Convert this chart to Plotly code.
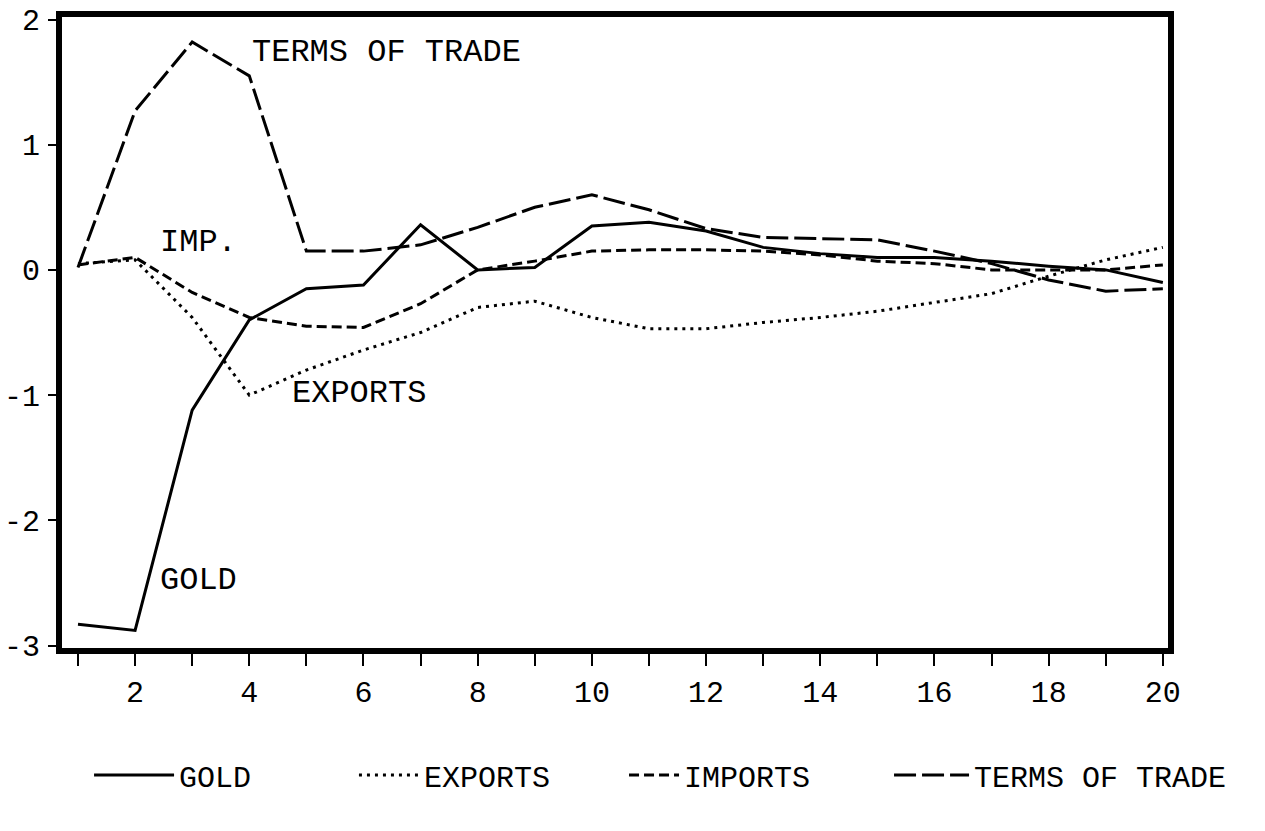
import plotly.graph_objects as go

periods = list(range(1, 21))
gold = [-2.83, -2.88, -1.12, -0.40, -0.15, -0.12, 0.36, 0.00, 0.02, 0.35,
        0.38, 0.31, 0.18, 0.13, 0.10, 0.10, 0.07, 0.03, 0.00, -0.10]
exports = [0.05, 0.08, -0.38, -1.00, -0.80, -0.64, -0.50, -0.30, -0.25, -0.38,
           -0.47, -0.47, -0.42, -0.38, -0.33, -0.26, -0.19, -0.05, 0.08, 0.18]
imports = [0.04, 0.10, -0.18, -0.38, -0.45, -0.46, -0.27, 0.00, 0.07, 0.15,
           0.16, 0.16, 0.15, 0.12, 0.07, 0.05, 0.00, 0.00, 0.00, 0.04]
terms_of_trade = [0.02, 1.27, 1.82, 1.55, 0.15, 0.15, 0.20, 0.34, 0.50, 0.60,
                  0.48, 0.33, 0.26, 0.25, 0.24, 0.15, 0.05, -0.08, -0.17, -0.15]

series_names = ["GOLD", "EXPORTS", "IMPORTS", "TERMS OF TRADE"]

x_tick_vals = list(range(1, 21))
x_tick_text = [str(v) if v % 2 == 0 else "" for v in x_tick_vals]
y_tick_vals = [2, 1, 0, -1, -2, -3]
y_tick_text = ["2", "1", "0", "-1", "-2", "-3"]

FONT = "Liberation Mono, DejaVu Sans Mono, monospace"

fig = go.Figure()
fig.add_trace(go.Scatter(x=periods, y=gold, mode="lines", name=series_names[0],
                         legend="legend",
                         line=dict(color="black", width=3)))
fig.add_trace(go.Scatter(x=periods, y=exports, mode="lines", name=series_names[1],
                         legend="legend2",
                         line=dict(color="black", width=3, dash="3px,5px")))
fig.add_trace(go.Scatter(x=periods, y=imports, mode="lines", name=series_names[2],
                         legend="legend3",
                         line=dict(color="black", width=3, dash="10px,5px")))
fig.add_trace(go.Scatter(x=periods, y=terms_of_trade, mode="lines", name=series_names[3],
                         legend="legend4",
                         line=dict(color="black", width=3, dash="22px,6px")))

labels = [
    ("TERMS OF TRADE", 4.01, 1.74),
    ("IMP.", 2.4, 0.22),
    ("EXPORTS", 4.71, -0.99),
    ("GOLD", 2.4, -2.48),
]
for txt, xx, yy in labels:
    fig.add_annotation(x=xx, y=yy, text=txt, showarrow=False, xanchor="left",
                       yanchor="middle", font=dict(family=FONT, size=32, color="black"))


def legend_box(xpos, iw):
    return dict(orientation="h", xref="container", yref="container",
                x=xpos, xanchor="left", y=0.0674, yanchor="middle",
                font=dict(family=FONT, size=30, color="black"),
                itemwidth=iw, bgcolor="rgba(0,0,0,0)")


fig.update_layout(
    width=1265, height=831,
    margin=dict(l=62, r=97, t=17, b=183, autoexpand=False),
    paper_bgcolor="white", plot_bgcolor="white",
    showlegend=True,
    legend=legend_box(0.0704, 80),
    legend2=legend_box(0.2798, 60),
    legend3=legend_box(0.4933, 50),
    legend4=legend_box(0.7028, 75),
    font=dict(family=FONT, color="black"),
)
fig.update_xaxes(range=[0.72, 20.09], tickmode="array", tickvals=x_tick_vals,
                 ticktext=x_tick_text, ticks="outside", ticklen=12, tickwidth=2,
                 tickcolor="black", showgrid=False, zeroline=False, automargin=False,
                 showline=True, linecolor="black", linewidth=6, mirror=True,
                 tickfont=dict(family=FONT, size=30, color="black"),
                 ticklabelstandoff=0)
fig.update_yaxes(range=[-3.02, 2.02], tickmode="array", tickvals=y_tick_vals,
                 ticktext=y_tick_text, ticks="outside", ticklen=8, tickwidth=2,
                 tickcolor="black", showgrid=False, zeroline=False, automargin=False,
                 showline=True, linecolor="black", linewidth=6, mirror=True,
                 tickfont=dict(family=FONT, size=30, color="black"),
                 ticklabelstandoff=2)

fig.write_html("out.html", config={"displayModeBar": False},
               post_script="document.body.style.margin='0px';")
